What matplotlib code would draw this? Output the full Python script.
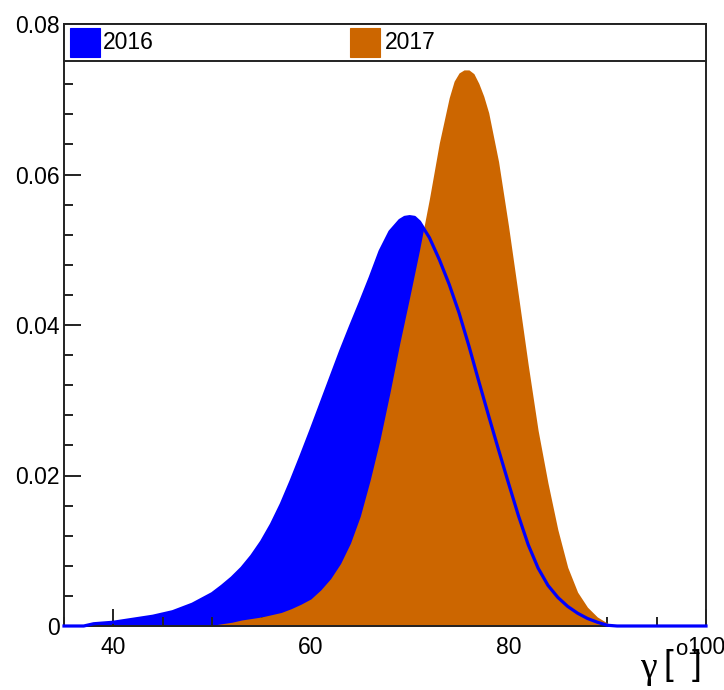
import matplotlib
matplotlib.use("Agg")
import matplotlib.pyplot as plt
from matplotlib.patches import Rectangle
from matplotlib.ticker import MultipleLocator

plt.rcParams["font.family"] = ["Liberation Sans", "DejaVu Sans"]

# gamma angle (degrees) and probability density, 2016
gamma_2016 = [35, 36, 37, 38, 39, 40, 41, 42, 43, 44,
              45, 46, 47, 48, 49, 50, 51, 52, 53, 54,
              55, 56, 57, 58, 59, 60, 61, 62, 63, 64,
              65, 66, 67, 68, 69, 69.5, 70, 70.5, 71, 72,
              73, 74, 75, 76, 77, 78, 79, 80, 81, 82,
              83, 84, 85, 86, 87, 88, 89, 90, 91, 100]
density_2016 = [0.0, 0.0, 0.0, 0.0003, 0.0004, 0.0005, 0.0007, 0.0009, 0.0011, 0.0013,
                0.0016, 0.0019, 0.0024, 0.0029, 0.0036, 0.0043, 0.0053, 0.0064, 0.0077, 0.0093,
                0.0112, 0.0135, 0.0162, 0.0193, 0.0226, 0.0260, 0.0295, 0.0330, 0.0365, 0.0398,
                0.0430, 0.0463, 0.0498, 0.0524, 0.0539, 0.0543, 0.0544, 0.0543, 0.0537, 0.0516,
                0.0487, 0.0454, 0.0416, 0.0372, 0.0325, 0.0279, 0.0234, 0.0190, 0.0147, 0.0108,
                0.0077, 0.0054, 0.0038, 0.0026, 0.0017, 0.0010, 0.0005, 0.0001, 0.0, 0.0]

# gamma angle (degrees) and probability density, 2017
gamma_2017 = [35, 49, 50, 51, 52, 53, 54, 55, 56, 57,
              58, 59, 60, 61, 62, 63, 64, 65, 66, 67,
              68, 69, 70, 71, 72, 73, 74, 74.5, 75, 75.5,
              76, 76.5, 77, 77.5, 78, 79, 80, 81, 82, 83,
              84, 85, 86, 87, 88, 89, 90, 90.5, 100]
density_2017 = [0.0, 0.0, 0.0001, 0.0003, 0.0005, 0.0008, 0.0010, 0.0012, 0.0015, 0.0018,
                0.0023, 0.0029, 0.0036, 0.0048, 0.0063, 0.0083, 0.0110, 0.0146, 0.0194, 0.0248,
                0.0310, 0.0376, 0.0437, 0.0500, 0.0568, 0.0642, 0.0702, 0.0724, 0.0735, 0.0739,
                0.0739, 0.0734, 0.0721, 0.0704, 0.0682, 0.0617, 0.0532, 0.0440, 0.0347, 0.0260,
                0.0190, 0.0128, 0.0078, 0.0045, 0.0025, 0.0012, 0.0004, 0.0, 0.0]

series_labels = ["2016", "2017"]
blue = "#0000FF"
orange = "#CC6600"

W, H = 724, 690
fig = plt.figure(figsize=(W / 100, H / 100), dpi=100)
L, R, T, B = 64, 706, 24, 626
ax = fig.add_axes([L / W, 1 - B / H, (R - L) / W, (B - T) / H])

ax.fill_between(gamma_2016, density_2016, 0, color=blue, linewidth=0, zorder=1)
ax.fill_between(gamma_2017, density_2017, 0, color=orange, linewidth=0, zorder=2)
ax.plot(gamma_2016, density_2016, color=blue, linewidth=2.3, zorder=3,
        solid_joinstyle="round", clip_on=False)

ax.set_xlim(35, 100)
ax.set_ylim(0, 0.08)

ax.xaxis.set_minor_locator(MultipleLocator(5))
ax.yaxis.set_minor_locator(MultipleLocator(0.004))
ax.set_xticks([40, 60, 80, 100])
ax.set_yticks([0, 0.02, 0.04, 0.06, 0.08])
ax.set_yticklabels(["0", "0.02", "0.04", "0.06", "0.08"])

ax.tick_params(axis="both", which="both", direction="in", colors="#222222",
               width=1.4, labelsize=16.5, labelcolor="black")
ax.tick_params(axis="both", which="major", length=12.5)
ax.tick_params(axis="both", which="minor", length=6.5)
ax.tick_params(axis="x", pad=7)
ax.tick_params(axis="y", pad=3)
ax.tick_params(top=False, right=False)
for s in ax.spines.values():
    s.set_linewidth(1.4)
    s.set_color("#222222")
    s.set_zorder(2.5)

# legend band across the top of the frame
lb = (B - 61) / (B - T)
ax.add_patch(Rectangle((0, lb), 1, 1 - lb, transform=ax.transAxes,
                       facecolor="white", edgecolor="#222222", linewidth=1.4,
                       zorder=5, clip_on=False))
sq_y0 = (B - 57) / (B - T)
sq_h = 29 / (B - T)
ty = (B - 42.5) / (B - T)
for xs, col, lab, tx in [((70 - L) / (R - L), blue, series_labels[0], (103 - L) / (R - L)),
                         ((350 - L) / (R - L), orange, series_labels[1], (385 - L) / (R - L))]:
    ax.add_patch(Rectangle((xs, sq_y0), 30 / (R - L), sq_h, transform=ax.transAxes,
                           facecolor=col, edgecolor=col, linewidth=0.8, zorder=6))
    ax.text(tx, ty, lab, transform=ax.transAxes, fontsize=16.5,
            va="center", ha="left", zorder=7)

# axis title: gamma [degrees]
fig.text(640 / W, 1 - 678 / H, "γ", fontsize=27, ha="left", va="baseline",
         family=["Liberation Serif", "DejaVu Serif"])
fig.text(664 / W, 1 - 675 / H, "[", fontsize=25, ha="left", va="baseline")
fig.text(675 / W, 1 - 655 / H, "o", fontsize=16, ha="left", va="baseline")
fig.text(692 / W, 1 - 675 / H, "]", fontsize=25, ha="left", va="baseline")

fig.savefig("out.png", dpi=100, facecolor="white")
